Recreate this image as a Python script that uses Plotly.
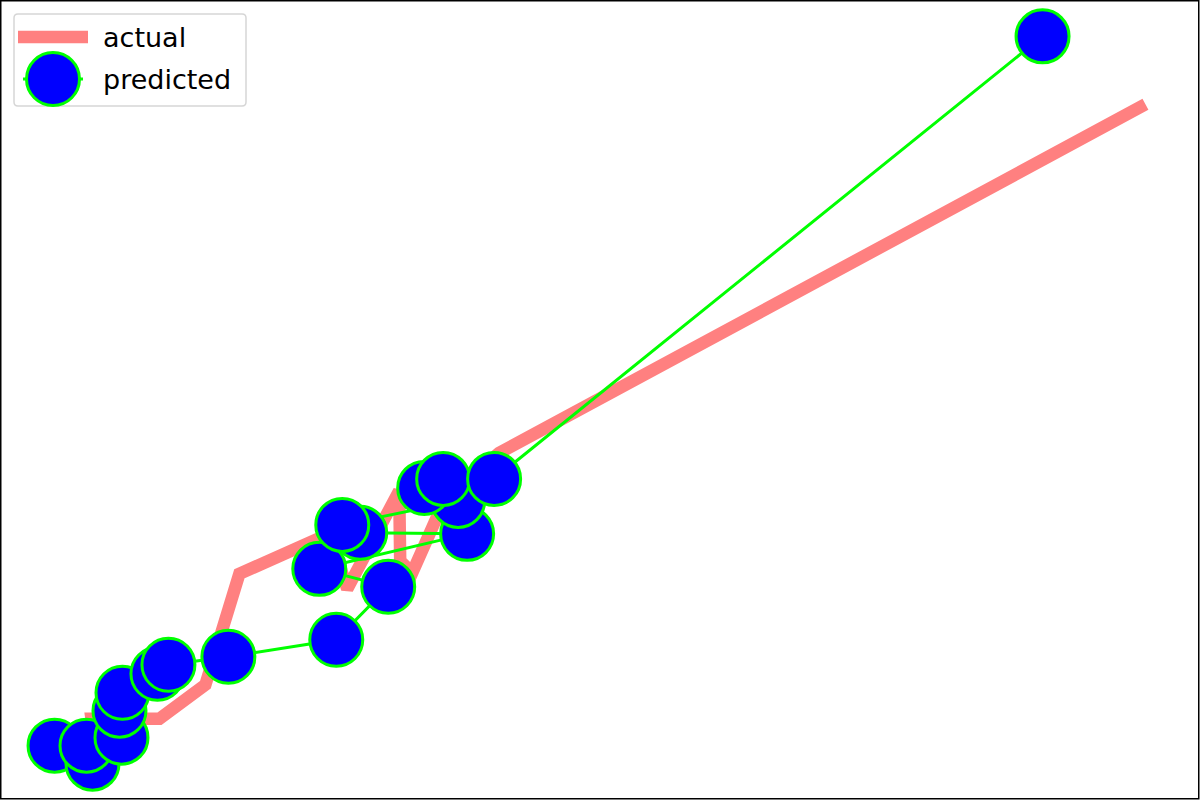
import plotly.graph_objects as go

# ---- data (arbitrary units) ----
actual_x = [0.95, 0.92, 1.60, 1.97, 2.06, 2.40, 3.07, 3.30, 3.48, 4.00, 4.01, 4.13, 4.37, 4.58, 5.00, 11.47]
actual_y = [0.60, 0.82, 0.82, 1.10, 1.16, 2.27, 2.57, 2.67, 2.12, 3.10, 2.40, 2.28, 2.82, 3.12, 3.48, 6.97]

pred_x = [0.55, 0.93, 0.87, 1.22, 1.20, 1.23, 1.58, 1.69, 2.29, 3.37, 3.89, 3.20, 4.68, 3.61, 3.43, 4.59, 4.25, 4.44, 4.95, 10.44]
pred_y = [0.55, 0.37, 0.55, 0.63, 0.90, 1.08, 1.27, 1.36, 1.44, 1.61, 2.14, 2.32, 2.67, 2.68, 2.76, 3.00, 3.13, 3.22, 3.22, 7.65]

legend_labels = ["actual", "predicted"]

W, H = 1200, 800
PINK = "#ff8080"
GREEN = "#00ff00"
BLUE = "#0000ff"


def padded(vals, frac=0.05):
    lo, hi = min(vals), max(vals)
    d = (hi - lo) * frac
    return [lo - d, hi + d]


xr = padded(actual_x + pred_x)
yr = padded(actual_y + pred_y)

fig = go.Figure()
fig.add_trace(go.Scatter(x=actual_x, y=actual_y, mode="lines",
                         line=dict(color=PINK, width=12.5),
                         name=legend_labels[0], showlegend=False))
fig.add_trace(go.Scatter(x=pred_x, y=pred_y, mode="lines+markers",
                         line=dict(color=GREEN, width=3),
                         marker=dict(size=53, color=BLUE, line=dict(color=GREEN, width=3)),
                         name=legend_labels[1], showlegend=False))


def px(x):
    return x / W


def py(y):
    return 1 - y / H


def rounded_rect(x0, y0, x1, y1, r):
    # pixel coords (top-left origin) -> paper path
    pts = []
    pts.append(f"M {px(x0 + r)},{py(y0)}")
    pts.append(f"L {px(x1 - r)},{py(y0)}")
    pts.append(f"Q {px(x1)},{py(y0)} {px(x1)},{py(y0 + r)}")
    pts.append(f"L {px(x1)},{py(y1 - r)}")
    pts.append(f"Q {px(x1)},{py(y1)} {px(x1 - r)},{py(y1)}")
    pts.append(f"L {px(x0 + r)},{py(y1)}")
    pts.append(f"Q {px(x0)},{py(y1)} {px(x0)},{py(y1 - r)}")
    pts.append(f"L {px(x0)},{py(y0 + r)}")
    pts.append(f"Q {px(x0)},{py(y0)} {px(x0 + r)},{py(y0)}")
    pts.append("Z")
    return " ".join(pts)


shapes = [
    # frame
    dict(type="rect", xref="paper", yref="paper", x0=px(0.75), x1=px(W - 1.25), y0=py(H - 1.25), y1=py(0.75),
         line=dict(color="black", width=1.5), fillcolor="rgba(0,0,0,0)", layer="above"),
    # legend box
    dict(type="path", xref="paper", yref="paper", path=rounded_rect(14, 14, 246, 106, 4),
         line=dict(color="#d6d6d6", width=1.5), fillcolor="white", layer="above"),
    # actual handle
    dict(type="line", xref="paper", yref="paper", x0=px(18), x1=px(88), y0=py(37), y1=py(37),
         line=dict(color=PINK, width=12.5), layer="above"),
    # predicted handle line
    dict(type="line", xref="paper", yref="paper", x0=px(23), x1=px(83), y0=py(79), y1=py(79),
         line=dict(color=GREEN, width=3), layer="above"),
    # predicted handle marker
    dict(type="circle", xref="paper", yref="paper", x0=px(53 - 26.5), x1=px(53 + 26.5),
         y0=py(79 + 26.5), y1=py(79 - 26.5),
         line=dict(color=GREEN, width=3), fillcolor=BLUE, layer="above"),
]

annotations = [
    dict(xref="paper", yref="paper", x=px(102), y=py(37), text=legend_labels[0], showarrow=False,
         xanchor="left", yanchor="middle", borderpad=0,
         font=dict(family="DejaVu Sans", size=27, color="black")),
    dict(xref="paper", yref="paper", x=px(102), y=py(79), text=legend_labels[1], showarrow=False,
         xanchor="left", yanchor="middle", borderpad=0,
         font=dict(family="DejaVu Sans", size=27, color="black")),
]

fig.update_layout(
    width=W, height=H,
    margin=dict(l=0, r=0, t=0, b=0, pad=0),
    paper_bgcolor="white", plot_bgcolor="white",
    xaxis=dict(range=xr, visible=False, showgrid=False, zeroline=False),
    yaxis=dict(range=yr, visible=False, showgrid=False, zeroline=False),
    shapes=shapes, annotations=annotations,
    showlegend=False,
)

fig.write_html("out.html", config={"displayModeBar": False},
               post_script="document.body.style.margin='0';")
